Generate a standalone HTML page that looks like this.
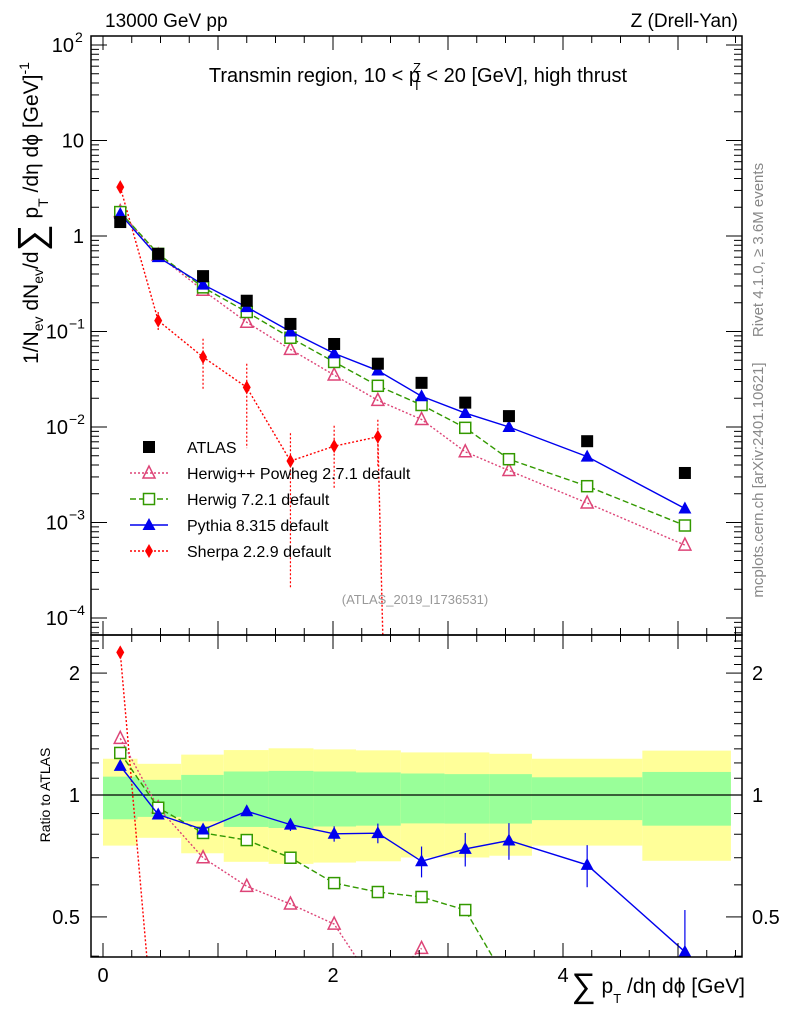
<!DOCTYPE html>
<html><head><meta charset="utf-8"><style>
html,body{margin:0;background:#fff;overflow:hidden;width:786px;height:1024px}
svg{display:block;font-family:"Liberation Sans",sans-serif}
</style></head><body>
<svg id="c" width="786" height="1024" viewBox="0 0 786 1024" xmlns="http://www.w3.org/2000/svg" overflow="hidden">
<rect width="786" height="1024" fill="#fff"/>
<g id="bands"></g>
<g id="series"></g>
<g id="axes"></g>
<text x="105" y="27" font-size="19">13000 GeV pp</text>
<text x="738" y="27" font-size="19" text-anchor="end">Z (Drell-Yan)</text>
<text x="418" y="82" font-size="20" text-anchor="middle">Transmin region, 10 &lt; p<tspan font-size="13" dx="-7" dy="-10">Z</tspan><tspan font-size="13" dx="-8" dy="18">T</tspan><tspan dy="-8"> &lt; 20 [GeV], high thrust</tspan></text>
<text x="415" y="604" font-size="13" fill="#999" text-anchor="middle">(ATLAS_2019_I1736531)</text>
<text transform="translate(763,250) rotate(-90)" font-size="15" fill="#888" text-anchor="middle">Rivet 4.1.0, ≥ 3.6M events</text>
<text transform="translate(763,480) rotate(-90)" font-size="15" fill="#888" text-anchor="middle">mcplots.cern.ch [arXiv:2401.10621]</text>
<g transform="translate(38,213) rotate(-90)">
<text x="0" y="0" font-size="21" text-anchor="middle">1/N<tspan font-size="14" dy="5">ev</tspan><tspan dy="-5"> dN</tspan><tspan font-size="14" dy="5">ev</tspan><tspan dy="-5">/d</tspan><tspan font-size="38" dy="6">∑</tspan><tspan dy="-6"> p</tspan><tspan font-size="14" dy="10">T</tspan><tspan dy="-10"> /dη dϕ  [GeV]</tspan><tspan font-size="14" dy="-9">-1</tspan></text>
</g>
<text transform="translate(50,795) rotate(-90)" font-size="14" text-anchor="middle">Ratio to ATLAS</text>
<text x="745" y="993" font-size="21" text-anchor="end"><tspan font-size="34" dy="4">∑</tspan><tspan dy="-4"> p</tspan><tspan font-size="13" dy="10">T</tspan><tspan dy="-10"> /dη dϕ [GeV]</tspan></text>
<g id="legend"></g>
</svg>
<script>
const xCenters=[0.15,0.48,0.87,1.25,1.63,2.01,2.39,2.77,3.15,3.53,4.21,5.06];
const binEdges=[0,0.3,0.68,1.05,1.44,1.83,2.2,2.59,2.97,3.36,3.73,4.69,5.46];
const atlas=[1.40,0.65,0.38,0.21,0.12,0.074,0.046,0.029,0.018,0.013,0.0071,0.0033];
const herwigpp=[1.8,0.63,0.27,0.125,0.065,0.035,0.019,0.012,0.0055,0.0035,0.0016,0.00058];
const herwig7=[1.78,0.65,0.29,0.16,0.086,0.048,0.027,0.017,0.0098,0.0046,0.0024,0.00093];
const pythia=[1.70,0.60,0.31,0.18,0.10,0.059,0.039,0.021,0.014,0.010,0.0049,0.0014];
const sherpa=[3.25,0.13,0.054,0.026,0.0044,0.0063,0.0079];
const sherpaErr=[0.3,0.03,0.03,0.02,0.0042,0.004,0.004];
const ratioHpp=[1.38,0.93,0.70,0.595,0.538,0.48,0.33,0.418];
const ratioH7=[1.27,0.93,0.806,0.774,0.70,0.606,0.576,0.56,0.52,0.34];
const ratioPy=[1.18,0.895,0.822,0.912,0.845,0.802,0.805,0.686,0.736,0.772,0.672,0.41];
const ratioPyErr=[0.02,0.02,0.02,0.025,0.03,0.035,0.045,0.06,0.07,0.08,0.08,0.11];
const ratioSh=[2.25,0.19];
const yellowTop=[1.229,1.194,1.258,1.291,1.304,1.296,1.289,1.274,1.274,1.264,1.229,1.287];
const greenTop=[1.11,1.09,1.121,1.143,1.147,1.143,1.137,1.13,1.126,1.126,1.106,1.14];
const greenBot=[0.871,0.883,0.861,0.834,0.829,0.836,0.84,0.851,0.85,0.85,0.867,0.84];
const yellowBot=[0.75,0.784,0.718,0.684,0.676,0.681,0.686,0.701,0.701,0.708,0.75,0.688];

const NS='http://www.w3.org/2000/svg';
const L=91,R=742,T=36,MB=635,RB=957;
const X=v=>103+v*115;
const Y=v=>236-Math.log10(v)*95.5;
const YR=v=>795-Math.log10(v)*405;
function mk(tag,attrs,parent){const e=document.createElementNS(NS,tag);for(const k in attrs)e.setAttribute(k,attrs[k]);parent.appendChild(e);return e;}
const svg=document.getElementById('c');
const gB=document.getElementById('bands'),gS=document.getElementById('series'),gA=document.getElementById('axes');
const defs=mk('defs',{},svg);
const c1=mk('clipPath',{id:'cm'},defs);mk('rect',{x:L,y:T,width:R-L,height:MB-T},c1);
const c2=mk('clipPath',{id:'cr'},defs);mk('rect',{x:L,y:MB,width:R-L,height:RB-MB},c2);
for(let i=0;i<yellowTop.length;i++){
  const x0=X(binEdges[i]),x1=X(binEdges[i+1]);
  const y=mk('rect',{x:x0,y:YR(yellowTop[i]),width:x1-x0,height:YR(yellowBot[i])-YR(yellowTop[i]),fill:'#ffff99'},gB);
  
  
  const g=mk('rect',{x:x0,y:YR(greenTop[i]),width:x1-x0,height:YR(greenBot[i])-YR(greenTop[i]),fill:'#99ff99'},gB);
  
  
}
mk('line',{x1:L,x2:R,y1:YR(1),y2:YR(1),stroke:'#000','stroke-width':1.3},gB);
function marker(type,x,y,color,parent){
  let e;
  if(type==='sq')e=mk('rect',{x:x-6,y:y-6,width:12,height:12,fill:color},parent);
  else if(type==='osq')e=mk('rect',{x:x-5.5,y:y-5.5,width:11,height:11,fill:'#fff',stroke:color,'stroke-width':1.5},parent);
  else if(type==='otri')e=mk('polygon',{points:`${x},${y-7} ${x-6},${y+5} ${x+6},${y+5}`,fill:'none',stroke:color,'stroke-width':1.5},parent);
  else if(type==='tri')e=mk('polygon',{points:`${x},${y-7} ${x-6.5},${y+5} ${x+6.5},${y+5}`,fill:color},parent);
  else e=mk('polygon',{points:`${x},${y-7} ${x-4},${y} ${x},${y+7} ${x+4},${y}`,fill:color},parent);
  return e;
}
function series(vals,name,color,dash,type,ymap,clip,errs){
  const g=mk('g',{'clip-path':`url(#${clip})`},gS);
  
  
  if(dash!==null){
    const pts=vals.map((v,i)=>`${X(xCenters[i])},${ymap(v)}`).join(' ');
    mk('polyline',{points:pts,fill:'none',stroke:color,'stroke-width':1.4,'stroke-dasharray':dash},g);
  }
  vals.forEach((v,i)=>{
    if(errs){const lo=Math.max(v-errs[i],1e-6);mk('line',{x1:X(xCenters[i]),x2:X(xCenters[i]),y1:ymap(v+errs[i]),y2:ymap(lo),stroke:color,'stroke-width':1.2,'stroke-dasharray':dash||'none'},g);}
    const m=marker(type,X(xCenters[i]),ymap(v),color,g);
    
    
  });
}
series(sherpa,'sherpa-series','#ff0000','2,2','dia',Y,'cm',sherpaErr);
mk('polyline',{points:`${X(2.39)},${Y(0.0079)} ${X(2.45)},${Y(1e-5)}`,stroke:'#f00','stroke-width':1.4,'stroke-dasharray':'2,2',fill:'none','clip-path':'url(#cm)'},gS);
series(herwigpp,'herwigpp-series','#dd4477','2,2','otri',Y,'cm');
series(herwig7,'herwig7-series','#339900','6,3','osq',Y,'cm');
series(pythia,'pythia-series','#0000ee','','tri',Y,'cm');
series(atlas,'atlas-series','#000',null,'sq',Y,'cm');
series(ratioSh,'sherpa-ratio','#ff0000','2,2','dia',YR,'cr');
series(ratioHpp,'herwigpp-ratio','#dd4477','2,2','otri',YR,'cr');
series(ratioH7,'herwig7-ratio','#339900','6,3','osq',YR,'cr');
series(ratioPy,'pythia-ratio','#0000ee','','tri',YR,'cr',ratioPyErr);
mk('rect',{x:L,y:T,width:R-L,height:MB-T,fill:'none',stroke:'#000','stroke-width':1.5},gA);
mk('rect',{x:L,y:MB,width:R-L,height:RB-MB,fill:'none',stroke:'#000','stroke-width':1.5},gA);
for(let v=0;v<=5.5;v+=0.25){
  const big=Math.abs(v%1)<1e-6, h=big?14:7;
  [[T,1],[MB,-1],[MB,1],[RB,-1]].forEach(([y,s])=>mk('line',{x1:X(v),x2:X(v),y1:y,y2:y+s*h,stroke:'#000'},gA));
}
['0','2','4'].forEach((t,i)=>{const e=mk('text',{x:X(i*2),y:982,'font-size':20,'text-anchor':'middle'},gA);e.textContent=t;});
for(let d=-5;d<=2;d++){for(let k=1;k<10;k++){const v=k*Math.pow(10,d);const y=Y(v);if(y<T||y>MB)continue;const h=k===1?16:8;
  mk('line',{x1:L,x2:L+h,y1:y,y2:y,stroke:'#000'},gA);mk('line',{x1:R,x2:R-h,y1:y,y2:y,stroke:'#000'},gA);}}
const yLabVals=[100,10,1,0.1,0.01,0.001,0.0001];
const yLabels=['10','10','1','10','10','10','10'];
const yExp=['2','','','−1','−2','−3','−4'];
yLabVals.forEach((v,i)=>{
 const ex=yExp[i];const endX=ex?(ex.length>1?68:74):84;
 const e=mk('text',{x:endX,y:Y(v)+7,'font-size':20,'text-anchor':'end'},gA);e.textContent=yLabels[i];
 
 
 if(ex){const s=mk('text',{x:endX+1,y:Y(v)-3,'font-size':14},gA);s.textContent=ex;}
});
for(let k=0.4;k<=2.41;k+=0.1){const y=YR(k);if(y<MB||y>RB)continue;const big=[0.5,1,2].some(b=>Math.abs(b-k)<1e-6);const h=big?16:8;
 mk('line',{x1:L,x2:L+h,y1:y,y2:y,stroke:'#000'},gA);mk('line',{x1:R,x2:R-h,y1:y,y2:y,stroke:'#000'},gA);}
[[2,'2'],[1,'1'],[0.5,'0.5']].forEach(([v,t])=>{
 const a=mk('text',{x:80,y:YR(v)+7,'font-size':20,'text-anchor':'end'},gA);a.textContent=t;
 const b=mk('text',{x:752,y:YR(v)+7,'font-size':20},gA);b.textContent=t;});
const legNames=['ATLAS','Herwig++ Powheg 2.7.1 default','Herwig 7.2.1 default','Pythia 8.315 default','Sherpa 2.2.9 default'];
const legColors=['#000','#dd4477','#339900','#0000ee','#ff0000'];
const legTypes=['sq','otri','osq','tri','dia'];
const legDash=[null,'2,2','6,3','','2,2'];
const lg=document.getElementById('legend');
legNames.forEach((n,i)=>{const y=447+i*26;
 const g=mk('g',{},lg);
 
 
 if(legDash[i]!==null)mk('line',{x1:130,x2:168,y1:y,y2:y,stroke:legColors[i],'stroke-width':1.4,'stroke-dasharray':legDash[i]},g);
 marker(legTypes[i],149,y,legColors[i],g);
 const t=mk('text',{x:187,y:y+6,'font-size':16},g);t.textContent=n;});
</script>
</body></html>
